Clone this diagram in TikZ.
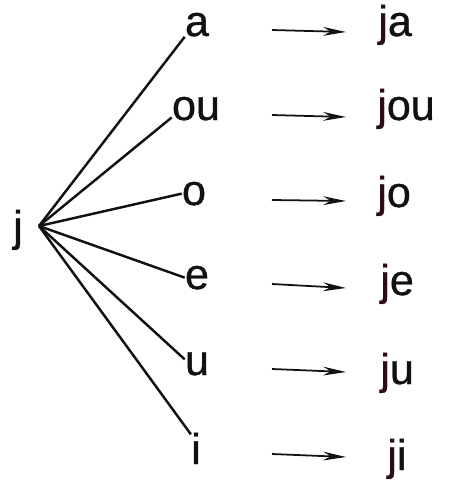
\documentclass[tikz,border=0pt]{standalone}
\usepackage{fontspec}
\setmainfont{Liberation Sans}[FakeBold=0.8]
\usepackage{tikz}
\usetikzlibrary{arrows.meta}
\definecolor{NearBlack}{HTML}{111111}
\definecolor{JRed}{HTML}{2B0C18}

\begin{document}
\begin{tikzpicture}[x=0.02cm,y=-0.02cm,
  font=\fontsize{24.5}{28}\selectfont,
  letter/.style={inner sep=0pt,text=NearBlack},
  fan/.style={line width=1.4pt,draw=NearBlack},
  turn/.style={line width=1pt,draw=NearBlack,-{Stealth[length=13pt,width=5pt]}}]
\useasboundingbox (0,0) rectangle (453,484);
% the initial and the point the lines fan out from
\node[letter,anchor=base] (j) at (18,241) {j};
\coordinate (root) at (39,226);
% rows: vowel, its place, line anchor, result place, arrow heights
\foreach \v/\vx/\vy/\an/\rx/\ry/\ay/\hy [count=\i] in {
  a/197/36/south west/378/36/30/32,
  ou/196/120/200/377/120/115/117,
  o/194/205/west/377/207/200/201,
  e/197/289/west/380/295/284/288,
  u/197/375/160/380/384/369/372,
  i/196/464/110/387/470/454/457} {
  \node[letter,anchor=base] (v-\i) at (\vx,\vy) {\v};
  \node[letter,anchor=base west] (r-\i) at (\rx,\ry) {\textcolor{JRed}{j}\v};
  \draw[fan] (root) -- (v-\i.\an);
  \coordinate (t-\i) at (272,\ay);
  \coordinate (h-\i) at (346,\hy);
  \draw[turn] (t-\i) -- (h-\i);
}
\end{tikzpicture}
\end{document}
